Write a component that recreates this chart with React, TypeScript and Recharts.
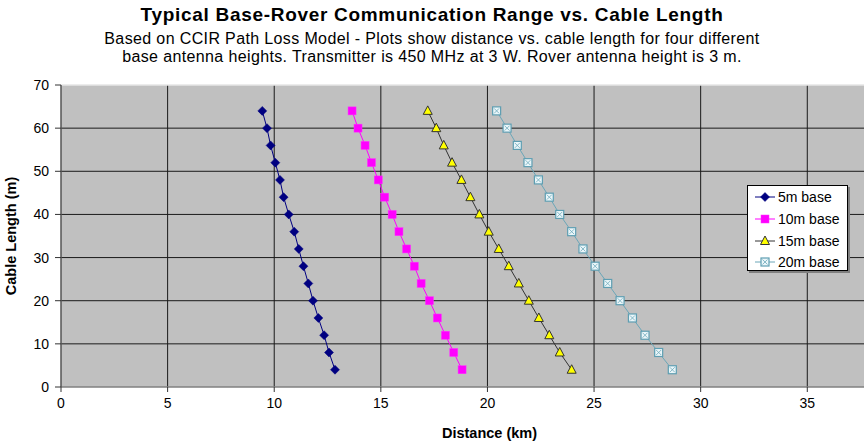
import React from "react";
import {
  ScatterChart,
  Scatter,
  XAxis,
  YAxis,
  CartesianGrid,
  ReferenceLine,
  Label,
} from "recharts";

const cableLengths = [64, 60, 56, 52, 48, 44, 40, 36, 32, 28, 24, 20, 16, 12, 8, 4];
const dist5m = [9.44, 9.66, 9.83, 10.05, 10.27, 10.44, 10.68, 10.94, 11.15, 11.37, 11.6, 11.82, 12.07, 12.34, 12.57, 12.85];
const dist10m = [13.65, 13.93, 14.26, 14.56, 14.88, 15.18, 15.53, 15.85, 16.21, 16.57, 16.89, 17.28, 17.65, 18.03, 18.42, 18.81];
const dist15m = [17.2, 17.6, 17.95, 18.34, 18.78, 19.2, 19.62, 20.06, 20.53, 21.0, 21.47, 21.94, 22.41, 22.9, 23.39, 23.95];
const dist20m = [20.43, 20.92, 21.4, 21.9, 22.39, 22.9, 23.39, 23.95, 24.48, 25.05, 25.64, 26.22, 26.8, 27.39, 28.03, 28.67];

const xTicks = [0, 5, 10, 15, 20, 25, 30, 35];
const yTicks = [0, 10, 20, 30, 40, 50, 60, 70];
const seriesNames = ["5m base", "10m base", "15m base", "20m base"];

const title = "Typical Base-Rover Communication Range vs. Cable Length";
const subtitle1 = "Based on CCIR Path Loss Model - Plots show distance vs. cable length for four different";
const subtitle2 = "base antenna heights. Transmitter is 450 MHz at 3 W. Rover antenna height is 3 m.";

const toPoints = (xs: number[]) => xs.map((d, i) => ({ dist: d, len: cableLengths[i] }));

const FONT = "'Liberation Sans', Arial, Helvetica, sans-serif";

type MarkerKind = "diamond" | "square" | "triangle" | "xsquare";

function Marker({ kind, cx, cy }: { kind: MarkerKind; cx: number; cy: number }) {
  if (kind === "diamond") {
    const r = 4.5;
    return (
      <polygon
        points={`${cx},${cy - r} ${cx + r},${cy} ${cx},${cy + r} ${cx - r},${cy}`}
        fill="#000080"
        stroke="#000080"
        strokeWidth={0.5}
      />
    );
  }
  if (kind === "square") {
    const r = 4;
    return <rect x={cx - r} y={cy - r} width={2 * r} height={2 * r} fill="#FF00FF" stroke="#FF33FF" strokeWidth={0.5} />;
  }
  if (kind === "triangle") {
    return (
      <polygon
        points={`${cx},${cy - 5} ${cx + 4.5},${cy + 3.5} ${cx - 4.5},${cy + 3.5}`}
        fill="#FFFF00"
        stroke="#333333"
        strokeWidth={1}
      />
    );
  }
  const r = 4;
  return (
    <g>
      <rect x={cx - r} y={cy - r} width={2 * r} height={2 * r} fill="#EAF6F9" stroke="#5E9EB2" strokeWidth={1.2} />
      <line x1={cx - r + 1.5} y1={cy - r + 1.5} x2={cx + r - 1.5} y2={cy + r - 1.5} stroke="#6FAABB" strokeWidth={0.8} />
      <line x1={cx + r - 1.5} y1={cy - r + 1.5} x2={cx - r + 1.5} y2={cy + r - 1.5} stroke="#6FAABB" strokeWidth={0.8} />
    </g>
  );
}

const series = [
  { name: seriesNames[0], data: toPoints(dist5m), color: "#000080", kind: "diamond" as MarkerKind },
  { name: seriesNames[1], data: toPoints(dist10m), color: "#FF00FF", kind: "square" as MarkerKind },
  { name: seriesNames[2], data: toPoints(dist15m), color: "#333333", kind: "triangle" as MarkerKind },
  { name: seriesNames[3], data: toPoints(dist20m), color: "#6AA6B8", kind: "xsquare" as MarkerKind },
];

function LegendBox() {
  return (
    <div
      style={{
        position: "absolute",
        left: 747,
        top: 185,
        width: 99,
        height: 84,
        background: "#ffffff",
        border: "1px solid #000",
        boxShadow: "2px 2px 0 #808080",
        fontFamily: FONT,
        fontSize: 14,
        color: "#000",
        boxSizing: "content-box",
      }}
    >
      {series.map((s, i) => (
        <div key={s.name} style={{ position: "absolute", left: 6, top: 1 + i * 21.8, height: 20, display: "flex", alignItems: "center" }}>
          <svg width={22} height={20} style={{ display: "block" }}>
            <line x1={1} y1={10} x2={21} y2={10} stroke={s.color} strokeWidth={1} />
            <Marker kind={s.kind} cx={11} cy={10} />
          </svg>
          <span style={{ marginLeft: 2, whiteSpace: "nowrap" }}>{s.name}</span>
        </div>
      ))}
    </div>
  );
}

export default function App() {
  return (
    <div style={{ position: "absolute", left: 0, top: 0, width: 864, height: 442, background: "#fff", overflow: "hidden" }}>
      <div
        style={{
          position: "absolute",
          left: 0,
          top: 4,
          width: 864,
          textAlign: "center",
          fontFamily: FONT,
          fontWeight: "bold",
          fontSize: 19,
          letterSpacing: 0.7,
          color: "#000",
          lineHeight: "22px",
        }}
      >
        {title}
      </div>
      <div
        style={{
          position: "absolute",
          left: 0,
          top: 30,
          width: 864,
          textAlign: "center",
          fontFamily: FONT,
          fontSize: 16,
          letterSpacing: 0.37,
          color: "#000",
          lineHeight: "18px",
        }}
      >
        <div>{subtitle1}</div>
        <div>{subtitle2}</div>
      </div>
      <div style={{ position: "absolute", left: 0, top: 0 }}>
        <ScatterChart width={864} height={442} margin={{ top: 85, right: 0, left: 0, bottom: 0 }}>
          <CartesianGrid
            stroke="#1a1a1a"
            strokeWidth={1}
            fill="#C0C0C0"
            horizontalValues={[10, 20, 30, 40, 50, 60]}
            verticalValues={[5, 10, 15, 20, 25, 30, 35]}
          />
          <ReferenceLine y={70} stroke="#e6e6e6" strokeWidth={1.5} />
          <XAxis
            type="number"
            dataKey="dist"
            domain={[0, 37.66]}
            ticks={xTicks}
            height={55}
            tickSize={5}
            tickMargin={6}
            axisLine={{ stroke: "#808080", strokeWidth: 1.5 }}
            tickLine={{ stroke: "#333" }}
            tick={{ fill: "#000", fontSize: 14, fontFamily: FONT }}
          >
            <Label
              value="Distance (km)"
              position="insideBottom"
              offset={4}
              dx={27}
              style={{ fill: "#000", fontSize: 14.5, fontWeight: "bold", fontFamily: FONT }}
            />
          </XAxis>
          <YAxis
            type="number"
            dataKey="len"
            domain={[0, 70]}
            ticks={yTicks}
            width={61}
            tickSize={6}
            tickMargin={6}
            axisLine={{ stroke: "#555", strokeWidth: 1.5 }}
            tickLine={{ stroke: "#333" }}
            tick={{ fill: "#000", fontSize: 14, fontFamily: FONT }}
          >
            <Label
              value="Cable Length (m)"
              angle={-90}
              position="insideLeft"
              offset={0}
              dx={11}
              style={{ fill: "#000", fontSize: 14.5, fontWeight: "bold", fontFamily: FONT, textAnchor: "middle" }}
            />
          </YAxis>
          {series.map((s) => (
            <Scatter
              key={s.name}
              name={s.name}
              data={s.data}
              line={{ stroke: s.color, strokeWidth: 1 }}
              lineType="joint"
              isAnimationActive={false}
              shape={(p: any) => <Marker kind={s.kind} cx={p.cx} cy={p.cy} />}
            />
          ))}
        </ScatterChart>
      </div>
      <LegendBox />
    </div>
  );
}
